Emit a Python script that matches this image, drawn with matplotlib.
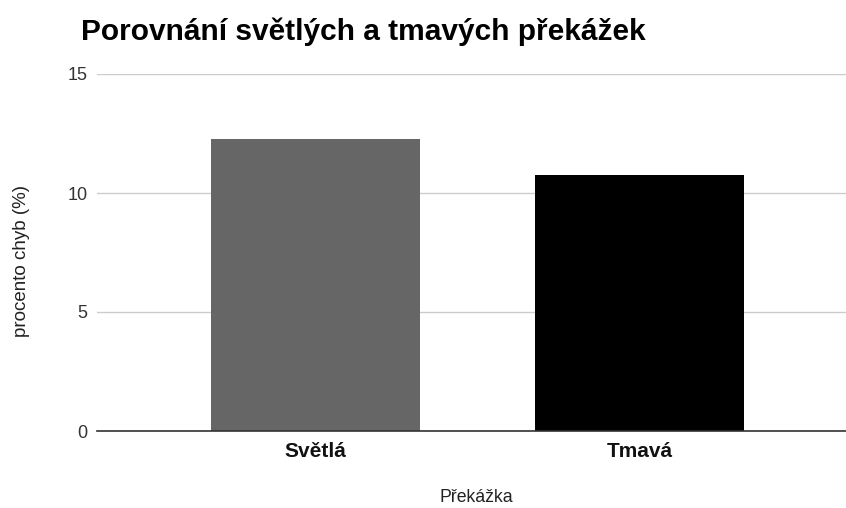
import matplotlib.pyplot as plt

categories = ['Světlá', 'Tmavá']
values = [12.27, 10.76]
bar_colors = ['#666666', '#000000']
y_ticks = [0, 5, 10, 15]

plt.rcParams['font.family'] = ['Liberation Sans', 'DejaVu Sans']

fig = plt.figure(figsize=(8.46, 5.08), dpi=100)
ax = fig.add_axes([97 / 846, 1 - 431 / 508, 1 - 97 / 846, (431 - 74) / 508])

x = list(range(len(categories)))
ax.bar(x, values, width=0.644, color=bar_colors, zorder=3)

ax.set_xlim(-0.672, 1.636)
ax.set_ylim(0, 15)
ax.set_yticks(y_ticks)
ax.set_yticklabels([str(t) for t in y_ticks], fontsize=13, color='#333333')
ax.set_xticks(x)
ax.set_xticklabels(categories, fontsize=15, fontweight='bold', color='#111111')
ax.tick_params(axis='both', length=0)
ax.tick_params(axis='y', pad=7)
ax.tick_params(axis='x', pad=8)

ax.grid(axis='y', color='#cccccc', linewidth=1, zorder=0)
for s in ['top', 'right', 'left']:
    ax.spines[s].set_visible(False)
ax.spines['bottom'].set_color('#333333')
ax.spines['bottom'].set_linewidth(1.2)
ax.spines['bottom'].set_zorder(4)

fig.text(476 / 846, 1 - 497 / 508, 'Překážka', ha='center', va='center',
         fontsize=12.7, color='#222222')
fig.text(22 / 846, 1 - 261 / 508, 'procento chyb (%)', ha='center', va='center',
         rotation=90, fontsize=13.5, color='#222222')
fig.text(81 / 846, 1 - 40 / 508, 'Porovnání světlých a tmavých překážek',
         ha='left', va='baseline', fontsize=21.5, fontweight='bold', color='#000000')

fig.savefig('out.png', dpi=100)
